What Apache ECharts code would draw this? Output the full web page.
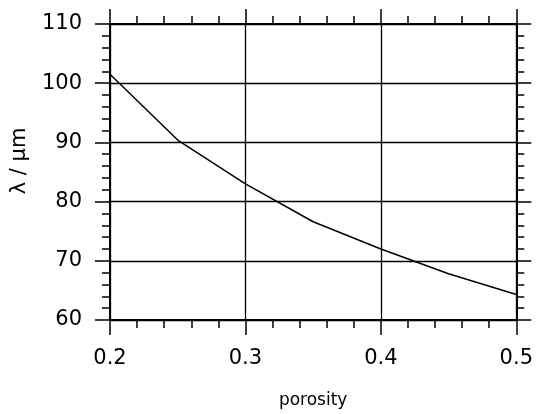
<!DOCTYPE html>
<html>
<head>
<meta charset="utf-8">
<script src="https://cdn.jsdelivr.net/npm/echarts@6/dist/echarts.min.js"></script>
<style>
html, body { margin: 0; padding: 0; background: #fff; }
#chart { width: 536px; height: 414px; }
</style>
</head>
<body>
<div id="chart"></div>
<script>
// porosity vs. lambda
var porosity = [0.2, 0.25, 0.3, 0.35, 0.4, 0.45, 0.5];
var lambda = [101.5, 90.4, 83.0, 76.6, 72.0, 67.8, 64.3];

var font = 'DejaVu Sans';

function xAxisDef(pos, main) {
	return {
		type : 'value',
		position : pos,
		min : 0.2,
		max : 0.5,
		interval : 0.1,
		name : main ? 'porosity' : '',
		nameLocation : 'middle',
		nameGap : 72,
		nameTextStyle : { color : '#000', fontFamily : font, fontSize : 17 },
		axisLine : { show : true, onZero : false, lineStyle : { color : '#000', width : 2 } },
		axisTick : { show : true, inside : false, length : 15, lineStyle : { color : '#000', width : 1.5 } },
		minorTick : { show : true, splitNumber : 5, length : 8, lineStyle : { color : '#000', width : 1.5 } },
		axisLabel : {
			show : main,
			margin : 28,
			color : '#000',
			fontFamily : font,
			fontSize : 21,
			formatter : function(v) { return v.toFixed(1); }
		},
		splitLine : { show : main, lineStyle : { color : '#000', width : 1.3 } }
	};
}

function yAxisDef(pos, main) {
	return {
		type : 'value',
		position : pos,
		min : 60,
		max : 110,
		interval : 10,
		name : main ? 'λ / μm' : '',
		nameLocation : 'middle',
		nameGap : 80,
		nameRotate : 90,
		nameTextStyle : { color : '#000', fontFamily : font, fontSize : 21, padding : [0, 0, 0, 22] },
		axisLine : { show : true, onZero : false, lineStyle : { color : '#000', width : 2 } },
		axisTick : { show : true, inside : false, length : 15, lineStyle : { color : '#000', width : 1.5 } },
		minorTick : { show : true, splitNumber : 5, length : 8, lineStyle : { color : '#000', width : 1.5 } },
		axisLabel : {
			show : main,
			margin : 28,
			color : '#000',
			fontFamily : font,
			fontSize : 21
		},
		splitLine : { show : main, lineStyle : { color : '#000', width : 1.3 } }
	};
}

var data = [];
porosity.forEach(function(p, i) {
	data.push([p, lambda[i]]);
});

var option = {
	animation : false,
	backgroundColor : '#fff',
	grid : {
		left : 110,
		right : 14,
		top : 24,
		bottom : 83
	},
	xAxis : [ xAxisDef('bottom', true), xAxisDef('top', false) ],
	yAxis : [ yAxisDef('left', true), yAxisDef('right', false) ],
	series : [ {
		type : 'line',
		data : data,
		showSymbol : false,
		symbol : 'none',
		lineStyle : { color : '#000', width : 1.5 }
	} ]
};

var chart = echarts.init(document.getElementById('chart'));
chart.setOption(option);
</script>
</body>
</html>
